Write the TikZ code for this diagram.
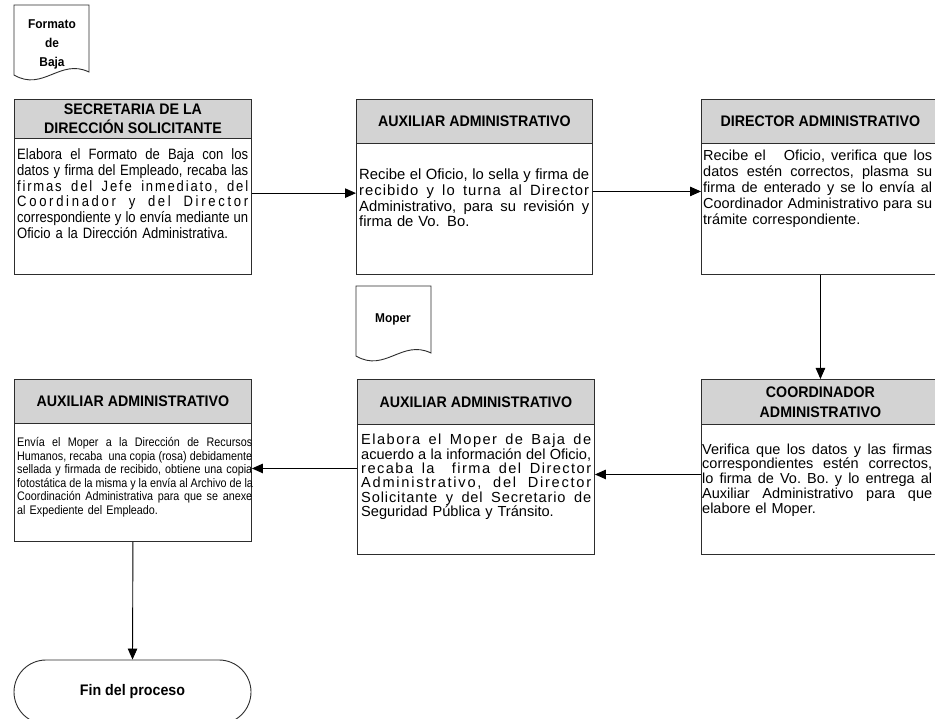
\documentclass[tikz,border=0pt]{standalone}
\usepackage{fontspec}
\setmainfont{Liberation Sans}
\newfontfamily\narrowsans{Liberation Sans}[FakeStretch=0.87]
\newfontfamily\headsans{Liberation Sans}[FakeStretch=0.93]
\usetikzlibrary{arrows.meta,shapes.misc}

\definecolor{hdrgray}{RGB}{211,211,211}
\definecolor{framegray}{RGB}{45,45,45}

% width of the current text block
\newdimen\blockw
% one justified line of a text block (spaces share the slack), and the closing line
\newcommand{\jl}[1]{\hbox to \blockw{\frenchspacing\spaceskip=.278em plus 1fil minus .04em\relax #1}\par}
\newcommand{\lastl}[1]{\hbox{#1}\par}
% letter-spaced run
\newcommand{\ls}[2]{\addfontfeature{LetterSpace=#1}#2}

\tikzset{
  frame/.style={draw=framegray, line width=0.9pt},
  hdr/.style={frame, fill=hdrgray, anchor=north west, inner sep=0pt, align=center,
    font=\headsans\fontsize{15.3}{19.5}\selectfont\bfseries},
  bodybox/.style={frame, anchor=north west, inner sep=0pt},
  para/.style={anchor=base west, inner sep=0pt, text width=#1,
    execute at begin node={\parindent=0pt\parskip=0pt\blockw=#1\relax}},
  flow/.style={draw=black, line width=0.9pt, -{Triangle[length=11pt,width=9.5pt]}},
  term/.style={frame, rounded rectangle, minimum width=237pt, minimum height=64pt,
    inner sep=0pt, font=\headsans\fontsize{15.3}{17}\selectfont\bfseries},
  doclabel/.style={inner sep=0pt, align=center, font=\headsans\fontsize{12.8}{19.3}\selectfont\bfseries},
  docsheet/.pic={
    \draw[frame, fill=white] (0,0) -- (75,0) -- (75,67)
      .. controls (46,53) and (29,87) .. (0,70) -- cycle;
  }
}

\begin{document}
\begin{tikzpicture}[x=1pt, y=-1pt]
\useasboundingbox (0,0) rectangle (935,719);
\fill[white] (0,0) rectangle (935,719);
\clip (0,0) rectangle (935,719);

% ---- documents
\pic (formato) at (14,5) {docsheet};
\node[doclabel] (formato_t) at (52,44.5) {Formato\\de\\Baja};
\pic (moper) at (356,286) {docsheet};
\node[doclabel] (moper_t) at (393,319) {Moper};

% ---- Secretaria de la Dirección Solicitante
\node[hdr, minimum width=237pt, minimum height=39pt] (sec_h) at (14,99)
  {SECRETARIA DE LA\\DIRECCIÓN SOLICITANTE};
\node[bodybox, minimum width=237pt, minimum height=136pt] (sec_b) at (14,138) {};
\node[para=231pt, font=\narrowsans\fontsize{15}{15.8}\selectfont] (sec_t) at (17,159.5) {%
  \jl{Elabora el Formato de Baja con los}%
  \jl{datos y firma del Empleado, recaba las}%
  \jl{\ls{12}{firmas del Jefe inmediato, del}}%
  \jl{\ls{18}{Coordinador y del Director}}%
  \jl{correspondiente y lo envía mediante un}%
  \lastl{Oficio a la Dirección Administrativa.}};

% ---- Auxiliar Administrativo (recepción)
\node[hdr, minimum width=236pt, minimum height=44pt] (aux1_h) at (356,99)
  {AUXILIAR ADMINISTRATIVO};
\node[bodybox, minimum width=236pt, minimum height=131pt] (aux1_b) at (356,143) {};
\node[para=230pt, font=\fontsize{14.8}{15.8}\selectfont] (aux1_t) at (359,179.5) {%
  \jl{Recibe el Oficio, lo sella y firma de}%
  \jl{\ls{7}{recibido y lo turna al Director}}%
  \jl{Administrativo, para su revisión y}%
  \lastl{firma de Vo. Bo.}};

% ---- Director Administrativo
\node[hdr, minimum width=238pt, minimum height=44pt] (dir_h) at (701,99)
  {DIRECTOR ADMINISTRATIVO};
\node[bodybox, minimum width=238pt, minimum height=131pt] (dir_b) at (701,143) {};
\node[para=229pt, font=\fontsize{14.5}{15.8}\selectfont] (dir_t) at (703,161) {%
  \jl{Recibe el\hspace{12pt} Oficio, verifica que los}%
  \jl{datos estén correctos, plasma su}%
  \jl{firma de enterado y se lo envía al}%
  \jl{Coordinador Administrativo para su}%
  \lastl{trámite correspondiente.}};

% ---- Coordinador Administrativo
\node[hdr, minimum width=238pt, minimum height=45pt, font=\headsans\fontsize{15.3}{20}\selectfont\bfseries]
  (coor_h) at (701,379) {COORDINADOR\\ADMINISTRATIVO};
\node[bodybox, minimum width=238pt, minimum height=130pt] (coor_b) at (701,424) {};
\node[para=230pt, font=\fontsize{14.5}{14.8}\selectfont] (coor_t) at (702,454) {%
  \jl{Verifica que los datos y las firmas}%
  \jl{correspondientes estén correctos,}%
  \jl{lo firma de Vo. Bo. y lo entrega al}%
  \jl{Auxiliar Administrativo para que}%
  \lastl{elabore el Moper.}};

% ---- Auxiliar Administrativo (elaboración del Moper)
\node[hdr, minimum width=237pt, minimum height=45pt] (aux2_h) at (357,379)
  {AUXILIAR ADMINISTRATIVO};
\node[bodybox, minimum width=237pt, minimum height=130pt] (aux2_b) at (357,424) {};
\node[para=230pt, font=\fontsize{14.6}{14.5}\selectfont] (aux2_t) at (361,444.5) {%
  \jl{\ls{10}{Elabora el Moper de Baja de}}%
  \jl{acuerdo a la información del Oficio,}%
  \jl{\ls{10}{recaba la\ \ firma del Director}}%
  \jl{\ls{12}{Administrativo, del Director}}%
  \jl{\ls{6}{Solicitante y del Secretario de}}%
  \lastl{Seguridad Pública y Tránsito.}};

% ---- Auxiliar Administrativo (envío a Recursos Humanos)
\node[hdr, minimum width=237pt, minimum height=44pt] (aux3_h) at (14,379)
  {AUXILIAR ADMINISTRATIVO};
\node[bodybox, minimum width=237pt, minimum height=118pt] (aux3_b) at (14,423) {};
\node[para=235pt, font=\narrowsans\fontsize{12.4}{13.5}\selectfont] (aux3_t) at (17,446.5) {%
  \jl{Envía el Moper a la Dirección de Recursos}%
  \jl{Humanos, recaba\ \ una copia (rosa) debidamente}%
  \jl{sellada y firmada de recibido, obtiene una copia}%
  \jl{fotostática de la misma y la envía al Archivo de la}%
  \jl{Coordinación Administrativa para que se anexe}%
  \lastl{al Expediente del Empleado.}};

% ---- terminal
\node[term] (fin) at (132.5,692) {Fin del proceso};

% ---- flow
\draw[flow] ([yshift=13.3pt]sec_b.east) coordinate (c1) -- (c1 -| aux1_b.west);
\draw[flow] ([yshift=17.5pt]aux1_b.east) coordinate (c2) -- (c2 -| dir_b.west);
\draw[flow] (dir_b.south) -- (coor_h.north);
\draw[flow] ([yshift=15pt]coor_b.west) coordinate (c4) -- (c4 -| aux2_b.east);
\draw[flow] ([yshift=21pt]aux2_b.west) coordinate (c5) -- (c5 -| aux3_b.east);
\draw[flow] (aux3_b.south) -- (fin.north);
\end{tikzpicture}
\end{document}
